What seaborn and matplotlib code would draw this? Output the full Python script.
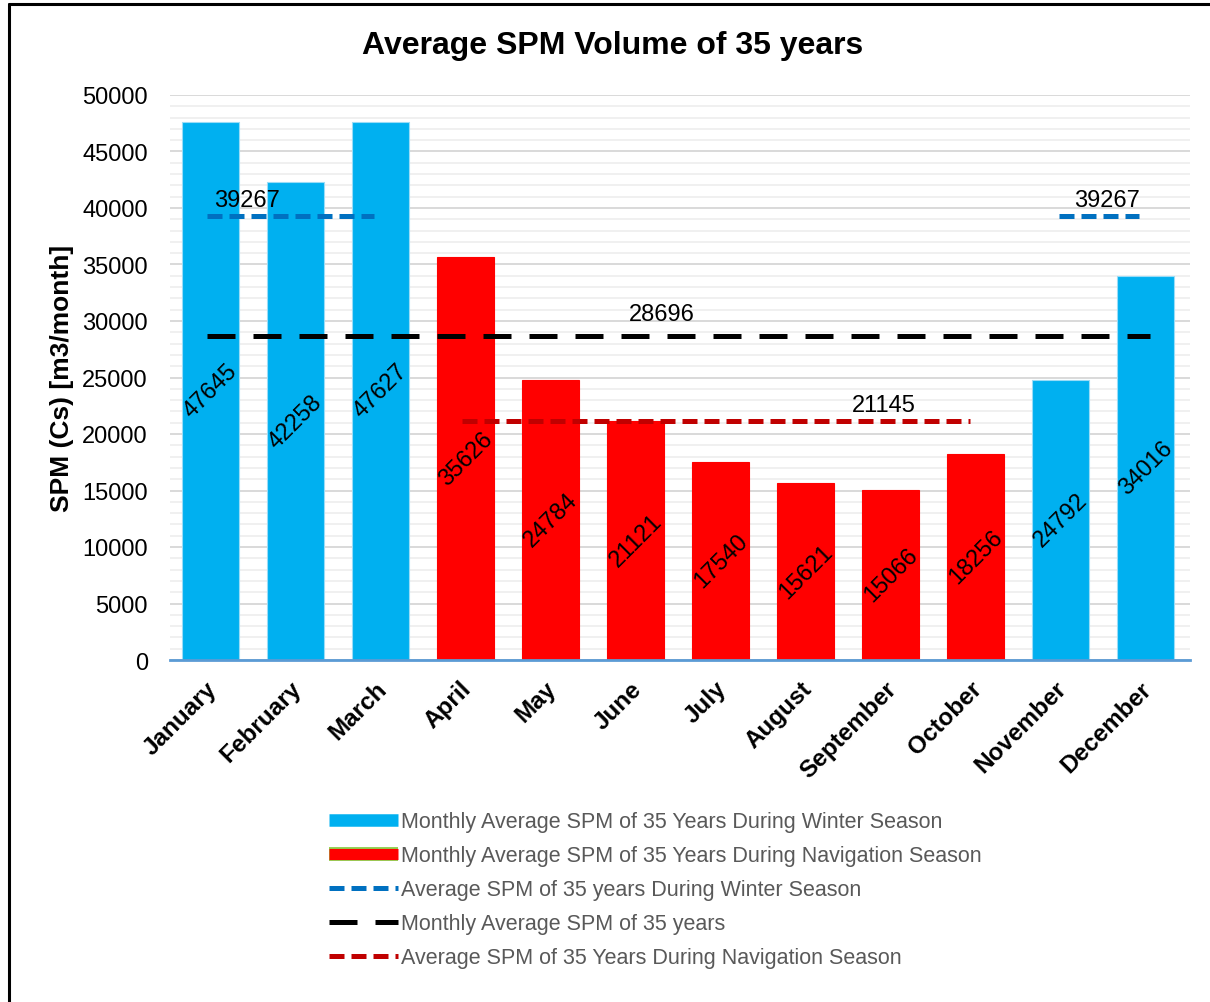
import matplotlib
matplotlib.use("Agg")
import matplotlib.pyplot as plt
import matplotlib.patheffects as pe
import matplotlib.transforms as mtransforms
from matplotlib.lines import Line2D
from matplotlib.ticker import MultipleLocator
import seaborn as sns
import pandas as pd

# Monthly average SPM volume over 35 years
months = ["January", "February", "March", "April", "May", "June", "July",
          "August", "September", "October", "November", "December"]
spm = [47645, 42258, 47627, 35626, 24784, 21121, 17540, 15621, 15066, 18256,
       24792, 34016]
season = ["Winter", "Winter", "Winter", "Navigation", "Navigation", "Navigation",
          "Navigation", "Navigation", "Navigation", "Navigation", "Winter", "Winter"]

winter_avg = 39267
overall_avg = 28696
navigation_avg = 21145

legend_labels = [
    "Monthly Average SPM of 35 Years During Winter Season",
    "Monthly Average SPM of 35 Years During Navigation Season",
    "Average SPM of 35 years During Winter Season",
    "Monthly Average SPM of 35 years",
    "Average SPM of 35 Years During Navigation Season",
]

BLUE = "#00B0F0"
RED = "#FF0000"
WINTER_LINE = "#0070C0"
NAV_LINE = "#C00000"

df = pd.DataFrame({"month": months, "spm": spm, "season": season})

sns.set_theme(style="white")
plt.rcParams["font.family"] = ["Liberation Sans", "DejaVu Sans"]
plt.rcParams["text.color"] = "black"
plt.rcParams["xtick.color"] = "black"
plt.rcParams["ytick.color"] = "black"
plt.rcParams["axes.labelcolor"] = "black"

fig = plt.figure(figsize=(12.10, 10.03), dpi=100)
ax = fig.add_axes([170 / 1210, 1 - 661 / 1003, 1020 / 1210, 565 / 1003])

sns.barplot(data=df, x="month", y="spm", hue="season",
            palette={"Winter": BLUE, "Navigation": RED}, saturation=1,
            dodge=False, width=0.67, legend=False, ax=ax,
            edgecolor="#9ADCF7", linewidth=0.8, zorder=3)
for patch in ax.patches:
    if patch.get_facecolor()[0] > 0.9:
        patch.set_edgecolor(RED)

# Value labels, rotated, at mid-height of each bar
for i, v in enumerate(spm):
    ax.text(i, v / 2, str(v), rotation=45, ha="center", va="center",
            fontsize=17, color="black", zorder=5)

# Seasonal and overall average lines
line_kw = dict(lw=3.6, solid_capstyle="butt", dash_capstyle="butt", zorder=4)
ax.plot([-0.04, 1.92], [winter_avg] * 2, color=WINTER_LINE,
        dashes=(3.0, 1.4), **line_kw)
ax.plot([9.98, 10.92], [winter_avg] * 2, color=WINTER_LINE,
        dashes=(3.0, 1.4), **line_kw)
ax.plot([-0.04, 11.05], [overall_avg] * 2, color="black",
        dashes=(5.6, 3.6), **line_kw)
ax.plot([2.96, 8.93], [navigation_avg] * 2, color=NAV_LINE,
        dashes=(3.0, 1.4), **line_kw)

ax.annotate(str(winter_avg), (0.035, winter_avg), xytext=(0, 12),
            textcoords="offset points", ha="left", va="center", fontsize=17)
ax.annotate(str(winter_avg), (10.54, winter_avg), xytext=(0, 12),
            textcoords="offset points", ha="center", va="center", fontsize=17)
ax.annotate(str(overall_avg), (5.31, overall_avg), xytext=(0, 16),
            textcoords="offset points", ha="center", va="center", fontsize=17)
ax.annotate(str(navigation_avg), (7.92, navigation_avg), xytext=(0, 11.5),
            textcoords="offset points", ha="center", va="center", fontsize=17)

# Axes styling
ax.set_xlim(-0.48, 11.52)
ax.set_ylim(0, 50000)
ax.yaxis.set_major_locator(MultipleLocator(5000))
ax.yaxis.set_minor_locator(MultipleLocator(1000))
ax.grid(which="major", axis="y", color="#D9D9D9", lw=1.4, zorder=0)
ax.grid(which="minor", axis="y", color="#F0F0F0", lw=1.4, zorder=0)
ax.set_axisbelow(True)
for side in ["left", "right", "top"]:
    ax.spines[side].set_visible(False)
ax.spines["bottom"].set_color("#5B9BD5")
ax.spines["bottom"].set_linewidth(2)
ax.spines["bottom"].set_zorder(6)
ax.tick_params(axis="both", which="both", length=0)
ax.set_yticks(range(0, 50001, 5000))
ax.set_yticklabels([str(t) for t in range(0, 50001, 5000)])
ax.tick_params(axis="y", labelsize=17, pad=16)
ax.set_xticks(range(len(months)))
ax.set_xticklabels(months, rotation=45, ha="right", rotation_mode="anchor",
                   fontsize=17.5, fontweight="bold")
ax.tick_params(axis="x", pad=12)
shift = mtransforms.ScaledTranslation(-6 / 100, 0, fig.dpi_scale_trans)
for lbl in ax.get_xticklabels():
    lbl.set_transform(lbl.get_transform() + shift)
ax.set_xlabel("")
ax.set_ylabel("SPM (Cs) [m3/month]", fontsize=19, fontweight="bold", labelpad=6)

fig.text(613 / 1210, 1 - 46 / 1003, "Average SPM Volume of 35 years",
         ha="center", va="center", fontsize=23, fontweight="bold")

# Legend
handles = [
    Line2D([], [], color=BLUE, lw=9, solid_capstyle="butt"),
    Line2D([], [], color=RED, lw=8, solid_capstyle="butt",
           path_effects=[pe.Stroke(linewidth=10, foreground="#92D050",
                                   capstyle="butt"), pe.Normal()]),
    Line2D([], [], color=WINTER_LINE, dashes=(3.0, 1.4), **line_kw),
    Line2D([], [], color="black", dashes=(5.6, 3.6), **line_kw),
    Line2D([], [], color=NAV_LINE, dashes=(3.0, 1.4), **line_kw),
]
leg = fig.legend(handles, legend_labels, loc="upper left",
                 bbox_to_anchor=(310 / 1210, 1 - 793 / 1003),
                 frameon=False, fontsize=15.5, handlelength=3.2,
                 handletextpad=0.15, labelspacing=0.6)
for t in leg.get_texts():
    t.set_color("#595959")

# Chart frame edges
fig.add_artist(Line2D([9 / 1210, 9 / 1210], [0, 1 - 5 / 1003], color="black",
                      lw=2.2, transform=fig.transFigure))
fig.add_artist(Line2D([9 / 1210, 1], [1 - 5 / 1003, 1 - 5 / 1003], color="black",
                      lw=2.2, transform=fig.transFigure))

fig.savefig("out.png", dpi=100)
